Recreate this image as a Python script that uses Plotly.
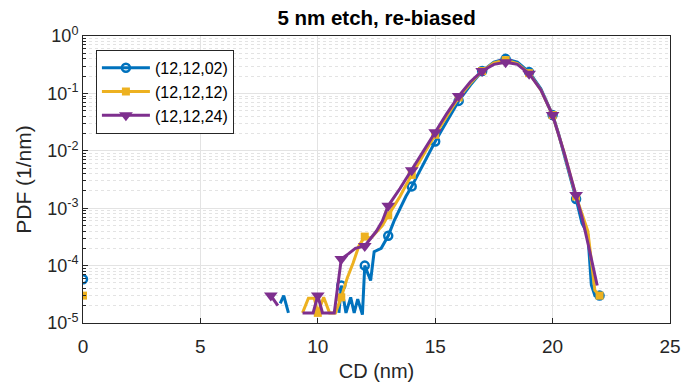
import plotly.graph_objects as go

# ---------------- data ----------------
series_names = ["(12,12,02)", "(12,12,12)", "(12,12,24)"]

x_blue = [0, None,
          8.4, 8.55, 8.75, None,
          10.9, 11.0, 11.2, 11.4, 11.55, 11.7, 11.9, 12.0, 12.25, 12.4, 12.7, 13.0,
          13.25, 13.5, 13.75, 14.0, 14.25, 14.5, 14.75, 15.0, 15.25, 15.5, 15.75, 16.0,
          16.5, 17.0, 17.5, 18.0, 18.5, 19.0, 19.5, 20.0, 20.25, 20.5, 20.75, 21.0,
          21.25, 21.5, 21.65, 21.8, 22.0]
y_blue = [5.8e-5, None,
          2.2e-5, 3.0e-5, 1.5e-5, None,
          1.5e-5, 4.5e-5, 1.5e-5, 2.8e-5, 1.5e-5, 2.6e-5, 1.4e-5, 1.0e-4, 5.5e-5, 1.75e-4, 2.0e-4, 3.3e-4,
          6.0e-4, 1.0e-3, 1.6e-3, 2.4e-3, 3.8e-3, 5.8e-3, 9.0e-3, 0.0145, 0.022, 0.033, 0.05, 0.074,
          0.14, 0.245, 0.35, 0.40, 0.35, 0.235, 0.12, 0.042, 0.02, 0.0085, 0.0035, 0.00145,
          5.5e-4, 3.5e-4, 4.6e-5, 3.0e-5, 3.0e-5]

x_orange = [0, None,
            9.35, 9.6, 9.85, 10.0, 10.25, 10.5, 10.75, 11.0, 11.25, 11.5, 11.75, 12.0,
            12.25, 12.5, 12.75, 13.0, 13.25, 13.5, 13.75, 14.0, 14.5, 15.0, 15.5, 16.0,
            16.5, 17.0, 17.5, 18.0, 18.5, 19.0, 19.5, 20.0, 20.5, 21.0, 21.25, 21.5,
            21.8, 22.0]
y_orange = [3.0e-5, None,
            1.5e-5, 2.7e-5, 2.7e-5, 1.5e-5, 2.8e-5, 1.5e-5, 1.5e-5, 2.8e-5, 6.0e-5, 1.1e-4, 2.2e-4, 3.2e-4,
            3.0e-4, 3.8e-4, 5.0e-4, 7.5e-4, 1.1e-3, 1.6e-3, 2.5e-3, 3.8e-3, 8.5e-3, 0.019, 0.04, 0.085,
            0.15, 0.245, 0.34, 0.38, 0.33, 0.225, 0.115, 0.042, 0.009, 0.0016, 8.0e-4, 4.0e-4,
            3.7e-5, 3.0e-5]

x_purple = [8.0, 8.3, None,
            9.35, 9.5, 9.8, 10.0, 10.2, 10.7, 11.0, 11.3, 11.6, 12.0, 12.25, 12.5, 12.75,
            13.0, 13.5, 14.0, 14.5, 15.0, 15.5, 16.0, 16.5, 17.0, 17.5, 18.0, 18.5,
            19.0, 19.5, 20.0, 20.5, 21.0, 21.25, 21.5, 21.75, 21.9]
y_purple = [3.0e-5, 2.0e-5, None,
            1.5e-5, 1.5e-5, 1.5e-5, 3.0e-5, 1.5e-5, 1.5e-5, 1.3e-4, 1.6e-4, 2.0e-4, 2.2e-4, 3.0e-4, 4.0e-4, 6.0e-4,
            1.1e-3, 2.2e-3, 4.6e-3, 0.01, 0.021, 0.045, 0.09, 0.16, 0.245, 0.32, 0.35, 0.32,
            0.22, 0.115, 0.042, 0.009, 0.0017, 7.0e-4, 2.5e-4, 8.0e-5, 4.5e-5]

x_ticks = [0, 5, 10, 15, 20, 25]
y_tick_exp = [-5, -4, -3, -2, -1, 0]

# ---------------- style ----------------
colors = ["#0072BD", "#EDB120", "#7E2F8E"]
symbols = ["circle-open", "square", "triangle-down"]
msizes = [8, 8, 12]
font_family = "Arial, Liberation Sans, sans-serif"
axis_col = "#262626"

fig = go.Figure()

for name, xs, ys, col, sym, ms in zip(series_names,
                                      [x_blue, x_orange, x_purple],
                                      [y_blue, y_orange, y_purple],
                                      colors, symbols, msizes):
    fig.add_trace(go.Scatter(x=xs, y=ys, mode="lines", connectgaps=False,
                             line=dict(color=col, width=3), showlegend=False,
                             hoverinfo="skip"))
    mx = [x for x, y in zip(xs, ys) if x is not None and float(x).is_integer()]
    my = [y for x, y in zip(xs, ys) if x is not None and float(x).is_integer()]
    mk = dict(symbol=sym, size=ms, color=col)
    if sym == "circle-open":
        mk["line"] = dict(color=col, width=2.5)
    fig.add_trace(go.Scatter(x=mx, y=my, mode="markers", marker=mk, showlegend=False))
    # legend entry
    fig.add_trace(go.Scatter(x=[None], y=[None], mode="lines+markers", name=name,
                             line=dict(color=col, width=3), marker=mk))

fig.update_layout(
    width=684, height=383,
    margin=dict(l=83, r=14, t=36, b=60),
    paper_bgcolor="white", plot_bgcolor="white",
    font=dict(family=font_family, size=18, color=axis_col),
    title=dict(text="<b>5 nm etch, re-biased</b>", x=0.5505, xanchor="center",
               y=1 - 18 / 383, yanchor="middle",
               font=dict(size=20.5, color="black", family=font_family)),
    legend=dict(x=0.022, y=0.952, xanchor="left", yanchor="top",
                bgcolor="white", bordercolor=axis_col, borderwidth=1,
                font=dict(size=16, color="black"), itemwidth=48,
                tracegroupgap=0),
    showlegend=True,
)

fig.update_xaxes(
    range=[0, 25], tickvals=x_ticks, ticktext=[str(v) for v in x_ticks],
    showgrid=True, gridcolor="#e3e3e3", gridwidth=1,
    showline=True, linecolor=axis_col, linewidth=1, mirror=True,
    ticks="inside", ticklen=5, tickcolor=axis_col, zeroline=False,
    tickfont=dict(size=19, color=axis_col), automargin=False,
    ticklabelstandoff=6,
    title=dict(text="CD (nm)", font=dict(size=20, color=axis_col), standoff=8),
)

fig.update_yaxes(
    type="log", range=[-5, 0],
    tickvals=[10 ** e for e in y_tick_exp],
    ticktext=["10<sup>%d</sup>" % e for e in y_tick_exp],
    showgrid=True, gridcolor="#e3e3e3", gridwidth=1,
    minor=dict(dtick="D1", showgrid=True, gridcolor="#e3e3e3", griddash="dot",
               ticks="inside", ticklen=3, tickcolor=axis_col),
    showline=True, linecolor=axis_col, linewidth=1, mirror=True,
    ticks="inside", ticklen=5, tickcolor=axis_col, zeroline=False,
    tickfont=dict(size=18, color=axis_col), automargin=False,
    title=dict(text="PDF (1/nm)", font=dict(size=21, color=axis_col), standoff=9),
)

fig.write_html("out.html")
